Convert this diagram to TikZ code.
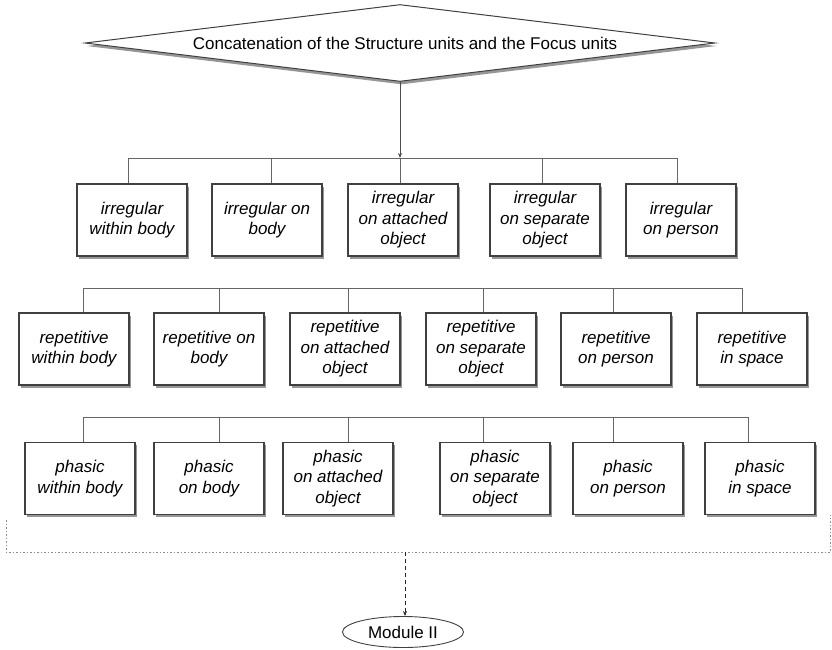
\documentclass[tikz,border=0pt]{standalone}
\usepackage{fontspec}
\setmainfont{Liberation Sans}
\usetikzlibrary{shapes.geometric,shadows,arrows.meta}
\begin{document}
\begin{tikzpicture}[x=1pt,y=-1pt,
  unitbox/.style={draw=black!75, line width=1.1pt, fill=white,
    minimum width=110pt, minimum height=72pt, inner sep=2pt, align=center,
    font=\fontsize{17}{20.5}\selectfont\itshape,
    drop shadow={shadow xshift=1.5pt, shadow yshift=-2.5pt, opacity=0.55, fill=black!75}},
  link/.style={draw=black!60, line width=0.8pt},
  tip/.style={-{Stealth[length=5pt,width=4pt]}}]
\useasboundingbox (0,0) rectangle (832,649);

% top diamond
\node[shape=diamond, draw=black!75, line width=1pt, fill=white, aspect=8.18,
  minimum width=630pt, minimum height=77pt, inner sep=0pt,
  font=\fontsize{17}{20}\selectfont,
  drop shadow={shadow xshift=1.5pt, shadow yshift=-3pt, opacity=0.55, fill=black!75}]
  (top) at (400,43) {\hspace*{10pt}Concatenation of the Structure units and the Focus units};

% row 1
\node[unitbox] (r11) at (132,220) {irregular\\within body};
\node[unitbox] (r12) at (267,220) {irregular on\\body};
\node[unitbox] (r13) at (403,220) {irregular\\on attached\\object};
\node[unitbox] (r14) at (545,220) {irregular\\on separate\\object};
\node[unitbox] (r15) at (681,220) {irregular\\on person};

% row 2
\node[unitbox] (r21) at (74,349) {repetitive\\within body};
\node[unitbox] (r22) at (209,349) {repetitive on\\body};
\node[unitbox] (r23) at (345,349) {repetitive\\on attached\\object};
\node[unitbox] (r24) at (481,349) {repetitive\\on separate\\object};
\node[unitbox] (r25) at (616,349) {repetitive\\on person};
\node[unitbox] (r26) at (752,349) {repetitive\\in space};

% row 3
\node[unitbox] (r31) at (80,478.5) {phasic\\within body};
\node[unitbox] (r32) at (209,478.5) {phasic\\on body};
\node[unitbox] (r33) at (338,478.5) {phasic\\on attached\\object};
\node[unitbox] (r34) at (495,478.5) {phasic\\on separate\\object};
\node[unitbox] (r35) at (628,478.5) {phasic\\on person};
\node[unitbox] (r36) at (760,478.5) {phasic\\in space};

% module
\node[ellipse, draw=black!75, line width=0.9pt, minimum width=121pt, minimum height=31pt,
  inner sep=0pt, font=\fontsize{17}{20}\selectfont] (mod) at (403,632) {Module II};

% connector coordinates
\coordinate (h1) at (400,158);
\coordinate (c11) at (128,158);
\coordinate (c12) at (271,158);
\coordinate (c13) at (400,158);
\coordinate (c14) at (542,158);
\coordinate (c15) at (677,158);

\coordinate (c21) at (83,288);
\coordinate (c22) at (219,288);
\coordinate (c23) at (348,288);
\coordinate (c24) at (483,288);
\coordinate (c25) at (613,288);
\coordinate (c26) at (742,288);

\coordinate (c31) at (83,417);
\coordinate (c32) at (219,417);
\coordinate (c33) at (348,417);
\coordinate (c34) at (483,417);
\coordinate (c35) at (613,417);
\coordinate (c36) at (748,417);

% top arrow
\draw[link, draw=black!70, tip] (top.south) -- (h1);

% bars
\draw[link] (c11) -- (c15);
\draw[link] (c21) -- (c26);
\draw[link] (c31) -- (c36);
\foreach \r/\n in {1/1,1/2,1/3,1/4,1/5,2/1,2/2,2/3,2/4,2/5,2/6,3/1,3/2,3/3,3/4,3/5,3/6}{
  \draw[link] (c\r\n) -- (c\r\n |- r\r\n.north);
}

% dotted bracket
\coordinate (bl) at (6,520);
\coordinate (bb) at (6,552);
\coordinate (br) at (830,552);
\coordinate (brt) at (830,515);
\coordinate (bm) at (405,552);
\draw[draw=black!45, line width=0.9pt, dash pattern=on 1.5pt off 2pt] (bl) -- (bb) -- (br) -- (brt);

\draw[draw=black!85, line width=1pt, dash pattern=on 4pt off 3pt, tip] (bm) -- (bm |- mod.north);
\end{tikzpicture}
\end{document}
